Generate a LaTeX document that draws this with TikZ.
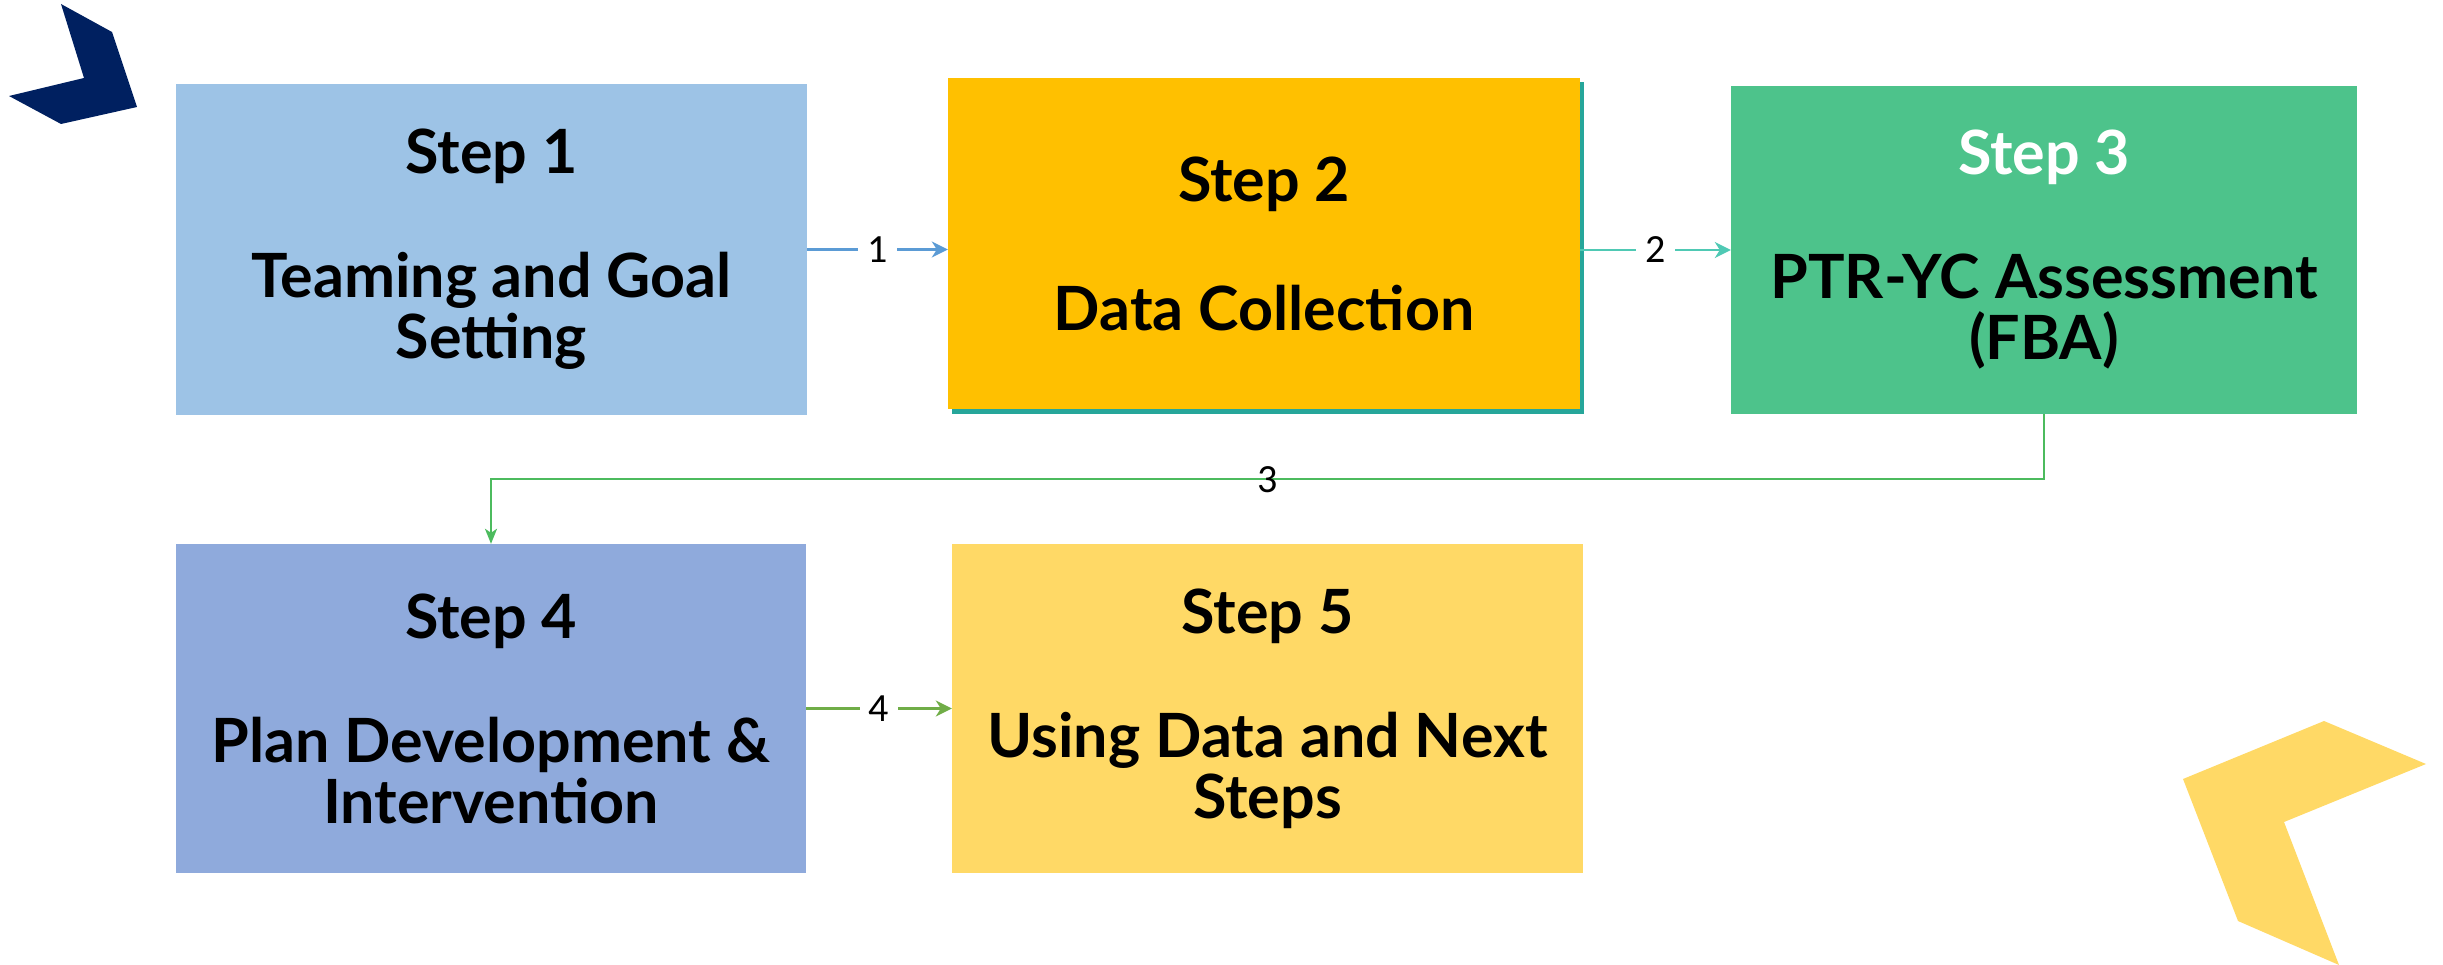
\documentclass[tikz,border=0pt]{standalone}
\usepackage{fontspec}
\setmainfont{Lato}
\newfontfamily\labelfont{Carlito}
\usetikzlibrary{arrows.meta}
\definecolor{boxA}{HTML}{9DC3E6}
\definecolor{boxB}{HTML}{FFC000}
\definecolor{boxC}{HTML}{4DC38B}
\definecolor{boxD}{HTML}{8FAADC}
\definecolor{boxE}{HTML}{FFD966}
\definecolor{shadowteal}{HTML}{26A69A}
\definecolor{arrA}{HTML}{5B9BD5}
\definecolor{arrB}{HTML}{4FC9B4}
\definecolor{arrC}{HTML}{4CBB5E}
\definecolor{arrD}{HTML}{70AD47}
\definecolor{navy}{HTML}{002060}
\tikzset{
  stepbox/.style={rectangle, inner sep=0pt, align=center, font=\fontsize{61}{61}\selectfont\bfseries},
  conn/.style={line width=2.5pt, -{Stealth[length=16pt,width=16pt,inset=5pt]}},
  numlabel/.style={font=\labelfont\fontsize{40}{44}\selectfont, inner sep=0pt},
  gaplabel/.style={numlabel, fill=white, inner xsep=9pt, inner ysep=4pt}
}
\begin{document}
\begin{tikzpicture}[x=1pt,y=-1pt]
\useasboundingbox (0,0) rectangle (2443,965);
% decorative chevrons
\fill[navy] (61,4) -- (112,32) -- (137,107) -- (61,124) -- (9,96) -- (84,78) -- cycle;
\fill[boxE] (2324,721) -- (2426,764) -- (2284,822) -- (2339,965) -- (2238,921) -- (2183,779) -- cycle;
% boxes
\fill[shadowteal] (952,82) rectangle (1584,414);
\node[stepbox, fill=boxA, minimum width=631pt, minimum height=331pt] (b1) at (491.5,249.5)
  {Step 1\\[63pt]Teaming and Goal\\Setting};
\node[stepbox, fill=boxB, minimum width=632pt, minimum height=331pt] (b2) at (1264,243.5)
  {Step 2\\[68pt]Data Collection};
\node[stepbox, fill=boxC, minimum width=626pt, minimum height=328pt] (b3) at (2044,250)
  {\textcolor{white}{Step 3}\\[63pt]PTR-YC Assessment\\(FBA)};
\node[stepbox, fill=boxD, minimum width=630pt, minimum height=329pt] (b4) at (491,708.5)
  {Step 4\\[63pt]Plan Development \&\\Intervention};
\node[stepbox, fill=boxE, minimum width=631pt, minimum height=329pt] (b5) at (1267.5,708.5)
  {Step 5\\[63pt]Using Data and Next\\Steps};
% connectors
\draw[conn, arrA] (b1.east) -- node[gaplabel, text=black] (l1) {1} (b1.east -| b2.west);
\draw[conn, arrB] (b3.west -| b2.east) -- node[gaplabel, text=black] (l2) {2} (b3.west);
\coordinate (c3) at ([yshift=-65pt]b3.south);
\draw[conn, arrC, line width=2pt, -{Stealth[length=15pt,width=12pt,inset=4pt]}] (b3.south) -- (c3) -| node[pos=0.25, numlabel, text=black] (l3) {3} (b4.north);
\draw[conn, arrD] (b4.east) -- node[gaplabel, text=black] (l4) {4} (b4.east -| b5.west);
\end{tikzpicture}
\end{document}
